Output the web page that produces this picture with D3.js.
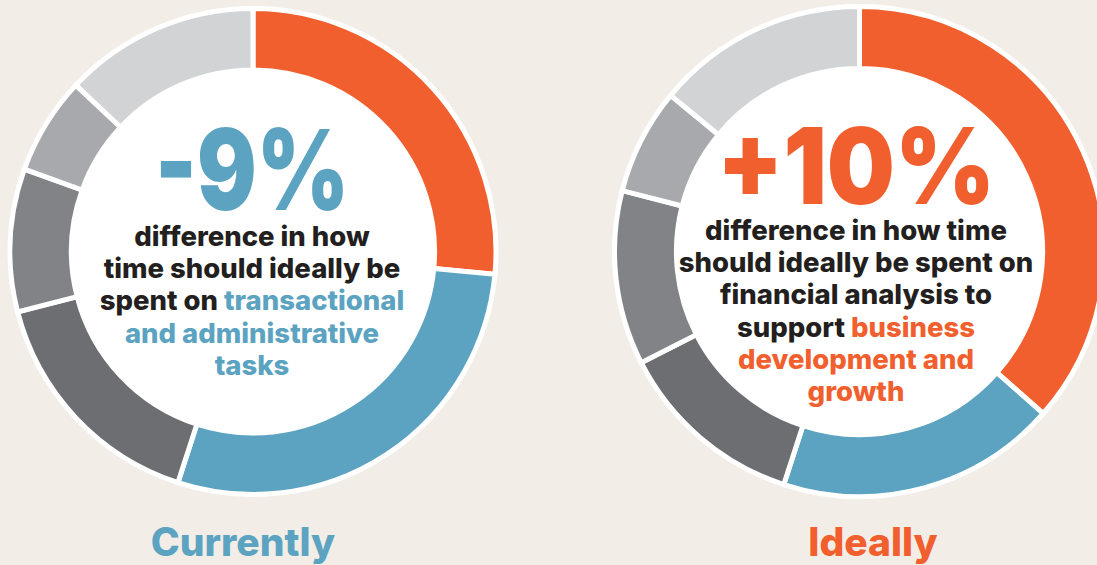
<!DOCTYPE html>
<html lang="en">

<head>
    <meta charset="UTF-8">
    <title>Currently vs Ideally</title>
    <script src="https://d3js.org/d3.v7.min.js"></script>
    <style>
        body,
        html {
            margin: 0;
            padding: 0;
            background: #f2eee7;
        }

        text {
            font-family: Inter, Roboto, "Open Sans", sans-serif;
        }

        .big {
            font-weight: 900;
            text-anchor: middle;
        }

        .body {
            font-weight: 800;
            font-size: 27.5px;
            fill: #231f20;
            text-anchor: middle;
        }

        .title {
            font-weight: 800;
            font-size: 39px;
            text-anchor: middle;
        }
    </style>
</head>

<body>
    <svg width="1097" height="565" id="chart"></svg>

    <script>
        // activity groups, same order in both rings (clockwise from 12 o'clock)
        const groups = ["business development", "transactional", "g1", "g2", "g3", "g4"];
        const colors = ["#f15f2e", "#5ca3c1", "#6d6e71", "#818386", "#a7a9ac", "#d1d3d4"];

        // share of time, %
        const currentValues = [26.5, 28.5, 16, 9.5, 6.5, 13];
        const idealValues = [36.5, 18.5, 12.5, 11.5, 7, 14];

        const blue = "#5ca3c1";
        const orange = "#f15f2e";

        const svg = d3.select("#chart");

        const pie = d3.pie().sort(null).value(d => d);

        function donut(cx, cy, r, values) {
            const g = svg.append("g").attr("transform", `translate(${cx},${cy})`);
            // white rim + centre
            g.append("circle").attr("r", r + 4.5).attr("fill", "#fff");
            const arc = d3.arc().innerRadius(r * 0.755).outerRadius(r + 2.5);
            g.selectAll("path")
                .data(pie(values))
                .enter()
                .append("path")
                .attr("d", arc)
                .attr("fill", (d, i) => colors[i])
                .attr("stroke", "#fff")
                .attr("stroke-width", 5);
            return g;
        }

        donut(253, 251.5, 240.5, currentValues);
        donut(859.5, 251.5, 242.5, idealValues);

        // centre text, each line = list of [text, colour]
        const leftLines = [
            [["difference in how", null]],
            [["time should ideally be", null]],
            [["spent on ", null], ["transactional", blue]],
            [["and administrative", blue]],
            [["tasks", blue]]
        ];
        const rightLines = [
            [["difference in how time", null]],
            [["should ideally be spent on", null]],
            [["financial analysis to", null]],
            [["support ", null], ["business", orange]],
            [["development and", orange]],
            [["growth", orange]]
        ];

        function centreText(cx, y0, big, bigColor, bigSize, bigWidth, lines) {
            svg.append("text")
                .attr("class", "big")
                .attr("x", cx)
                .attr("y", y0)
                .attr("fill", bigColor)
                .attr("font-size", bigSize)
                .attr("textLength", bigWidth)
                .attr("lengthAdjust", "spacingAndGlyphs")
                .text(big);
            lines.forEach((parts, i) => {
                const t = svg.append("text")
                    .attr("class", "body")
                    .attr("x", cx)
                    .attr("y", y0 + 36 + i * 32.2);
                parts.forEach(p => {
                    t.append("tspan").text(p[0]).attr("fill", p[1] || "#231f20");
                });
            });
        }

        centreText(252, 210, "-9%", blue, 112, 194, leftLines);
        centreText(856, 204, "+10%", orange, 106, 278, rightLines);

        svg.append("text").attr("class", "title").attr("x", 243).attr("y", 556)
            .attr("fill", blue).text("Currently");
        svg.append("text").attr("class", "title").attr("x", 873).attr("y", 556)
            .attr("fill", orange).text("Ideally");
    </script>
</body>

</html>
